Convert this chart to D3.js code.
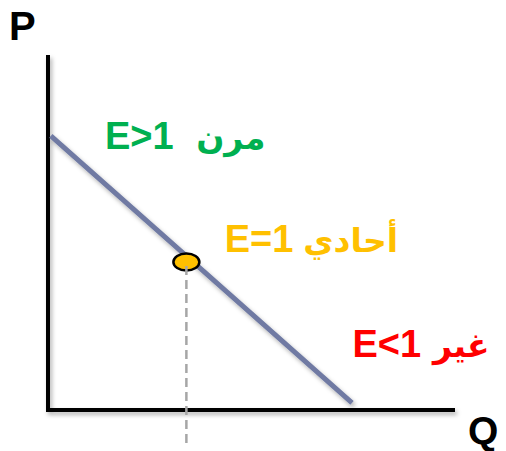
<!DOCTYPE html>
<html><head><meta charset="utf-8">
<script src="https://cdn.jsdelivr.net/npm/d3@7"></script>
<style>body{margin:0;background:#fff}svg{display:block}</style>
</head><body>
<svg id="c" width="506" height="451"></svg>
<script>
// Data
const demandQ = [0.07, 7.47];
const demandP = [7.72, 0.2];
const unitPoint = {q: 3.40, p: 4.17};
const axisLabels = ["P", "Q"];
const regionLabels = ["E>1", "E=1", "E<1"];
const regionArabic = ["مرن", "أحادي", "غير"];
const regionColors = ["#00B050", "#FFC000", "#FF0000"];
const regionQ = [1.40, 4.34, 7.48];      // left of latin label
const regionArQ = [5.34, 8.60, 10.85];   // right edge of arabic label
const regionP = [7.34, 4.45, 1.49];

const svg = d3.select("#c");
const x = d3.scaleLinear().domain([0, 10]).range([48, 455]);
const y = d3.scaleLinear().domain([0, 10]).range([410, 55]);

const defs = svg.append("defs");
const f = defs.append("filter").attr("id","sh").attr("x","-20%").attr("y","-20%").attr("width","140%").attr("height","140%");
f.append("feDropShadow").attr("dx",2).attr("dy",3).attr("stdDeviation",2).attr("flood-color","#000").attr("flood-opacity",0.3);

// Axes
svg.append("path")
  .attr("d", `M${x(0)},${y(10)} L${x(0)},${y(0)} L${x(10)},${y(0)}`)
  .attr("fill","none").attr("stroke","#000").attr("stroke-width",4)
  .attr("stroke-linejoin","miter").attr("filter","url(#sh)");

// Demand line
const line = d3.line().x(d => x(d[0])).y(d => y(d[1]));
svg.append("path")
  .datum(demandQ.map((q,i) => [q, demandP[i]]))
  .attr("d", line)
  .attr("fill","none").attr("stroke","#6F7AA3").attr("stroke-width",5)
  .attr("filter","url(#sh)");

// Unit elastic point
svg.append("ellipse")
  .attr("cx", x(unitPoint.q)).attr("cy", y(unitPoint.p))
  .attr("rx", 13).attr("ry", 8.5)
  .attr("fill","#FFC000").attr("stroke","#000").attr("stroke-width",2.5);

svg.append("line")
  .attr("x1", x(unitPoint.q)).attr("x2", x(unitPoint.q))
  .attr("y1", y(unitPoint.p) + 4).attr("y2", y(-0.93))
  .attr("stroke","#A6A6A6").attr("stroke-width",2.5)
  .attr("stroke-dasharray","9,5");

// Axis labels
svg.append("text").text(axisLabels[0])
  .attr("x", 9).attr("y", 40)
  .attr("font-family","Liberation Sans, Arial, sans-serif").attr("font-weight","bold")
  .attr("font-size",40).attr("fill","#000");
svg.append("text").text(axisLabels[1])
  .attr("x", 468).attr("y", 444)
  .attr("font-family","Liberation Sans, Arial, sans-serif").attr("font-weight","bold")
  .attr("font-size",39).attr("fill","#000");

// Region labels
regionLabels.forEach((t,i) => {
  svg.append("text").text(t)
    .attr("x", x(regionQ[i])).attr("y", y(regionP[i]))
    .attr("font-family","Liberation Sans, Arial, sans-serif").attr("font-weight","bold")
    .attr("font-size",38).attr("fill",regionColors[i]);
  svg.append("text").text(regionArabic[i])
    .attr("x", x(regionArQ[i])).attr("y", y(regionP[i]))
    .attr("text-anchor","start").attr("direction","rtl")
    .attr("font-family","DejaVu Sans, sans-serif").attr("font-weight","bold")
    .attr("font-size",33).attr("fill",regionColors[i]);
});
</script>
</body></html>
